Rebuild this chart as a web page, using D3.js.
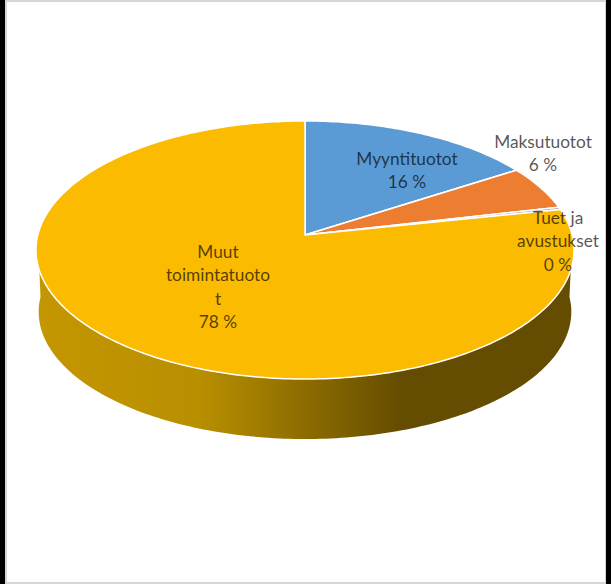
<!DOCTYPE html>
<html>
<head>
<meta charset="utf-8">
<script src="https://cdn.jsdelivr.net/npm/d3@7"></script>
<style>
  html, body { margin: 0; padding: 0; background: #fff; overflow: hidden; }
  svg { display: block; }
  text { font-family: Lato, "Open Sans", sans-serif; font-size: 17.3px; fill: #000; fill-opacity: 0.68; text-anchor: middle; }
</style>
</head>
<body>
<svg id="chart" width="611" height="584"></svg>
<script>
const categories = ["Myyntituotot", "Maksutuotot", "Tuet ja avustukset", "Muut toimintatuotot"];
const shares = [15.9, 5.5, 0.3, 78.3];
const colors = ["#5b9bd5", "#ed7d31", "#a5a5a5", "#fbbb00"];
const labelLines = [["Myyntituotot"], ["Maksutuotot"], ["Tuet ja", "avustukset"], ["Muut", "toimintatuoto", "t"]];
const labelSpots = [[407, 165], [543, 148], [558, 224], [218, 258]];
const wallStops = [[0, "#c49600"], [0.3, "#b98f00"], [0.5, "#8c6c00"], [0.68, "#644c00"], [1, "#644c00"]];

const W = 611, H = 584;
const svg = d3.select("#chart");

// frame round the picture
svg.append("rect").attr("width", W).attr("height", H).attr("fill", "#d6d6d6");
svg.append("rect").attr("x", 7).attr("y", 2).attr("width", 598).attr("height", 580).attr("fill", "#fff");
svg.append("rect").attr("width", 5).attr("height", H).attr("fill", "#000");
svg.append("rect").attr("x", 606).attr("width", 5).attr("height", H).attr("fill", "#000");

// tilted disc: circle angle -> screen point, far side smaller than near side
function disc(cx, cy, a, b, k) {
  return (t) => {
    const u = Math.sin(t), v = -Math.cos(t), w = 1 - k * v;
    return [cx + a * u / w, cy + b * v / w];
  };
}
const topFace = disc(305, 235, 267.2, 127.3, 0.1163);
const floorFace = disc(305, 297, 264.5, 125.5, 0.1163);

const pie = d3.pie().sort(null).value((d) => d);
const arcs = pie(shares);
const line = d3.line();

// side wall, front half only
const defs = svg.append("defs");
const grad = defs.append("linearGradient").attr("id", "wall")
  .attr("gradientUnits", "userSpaceOnUse")
  .attr("x1", 38).attr("x2", 574).attr("y1", 0).attr("y2", 0);
grad.selectAll("stop").data(wallStops).join("stop")
  .attr("offset", (d) => d[0]).attr("stop-color", (d) => d[1]);

const front = d3.range(0, 181).map((i) => Math.PI / 2 + (i * Math.PI) / 180);
const wallPts = front.map(topFace).concat(front.slice().reverse().map(floorFace));
svg.append("path").attr("d", line(wallPts) + "Z").attr("fill", "url(#wall)");

// top slices
function slicePath(d) {
  const n = Math.max(2, Math.ceil((d.endAngle - d.startAngle) * 60));
  const pts = d3.range(n + 1).map((i) => topFace(d.startAngle + ((d.endAngle - d.startAngle) * i) / n));
  return line([[305, 235], ...pts]) + "Z";
}
svg.append("g").selectAll("path").data(arcs).join("path")
  .attr("d", slicePath)
  .attr("fill", (d, i) => colors[i])
  .attr("stroke", "#fff")
  .attr("stroke-width", 1.5)
  .attr("stroke-linejoin", "round");

// labels
const lineGap = 23.3;
const labels = svg.append("g").selectAll("text").data(categories).join("text")
  .attr("x", (d, i) => labelSpots[i][0])
  .attr("y", (d, i) => labelSpots[i][1]);
labels.each(function (d, i) {
  const rows = labelLines[i].concat(Math.round(shares[i]) + " %");
  d3.select(this).selectAll("tspan").data(rows).join("tspan")
    .attr("x", labelSpots[i][0])
    .attr("y", (r, j) => labelSpots[i][1] + j * lineGap)
    .text((r) => r);
});
</script>
</body>
</html>
